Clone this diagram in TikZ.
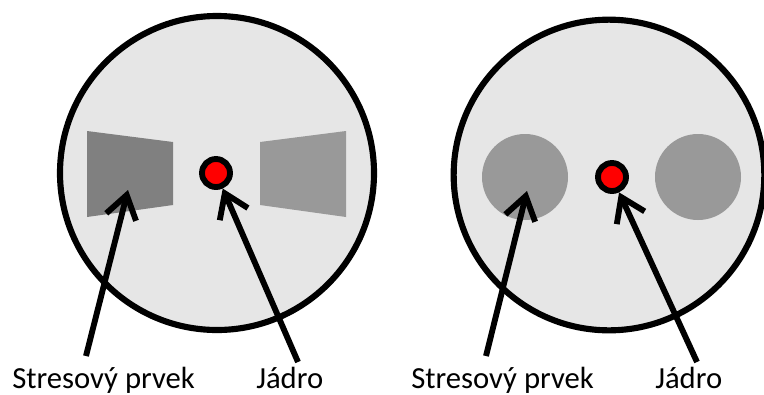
\documentclass[tikz,border=0pt]{standalone}
\usepackage{fontspec}
\setmainfont{Carlito}
\usetikzlibrary{arrows.meta}
\definecolor{diskfill}{HTML}{E6E6E6}
\definecolor{darkelem}{HTML}{808080}
\definecolor{lightelem}{HTML}{999999}
\definecolor{corered}{HTML}{FF0000}
\tikzset{
  disk/.style={circle, draw=black, line width=4.6pt, fill=diskfill, inner sep=0pt, minimum size=#1},
  core/.style={circle, draw=black, line width=4.4pt, fill=corered, inner sep=0pt, minimum size=21pt},
  blob/.style={circle, fill=lightelem, draw=none, inner sep=0pt, minimum size=64.5pt},
  pointer/.style={line width=4.4pt, line cap=butt,
    -{Straight Barb[length=17pt, width=23pt, sharp]}},
  caption/.style={font=\fontsize{23}{27}\selectfont, anchor=base west, inner sep=0pt}
}
\begin{document}
\begin{tikzpicture}[x=0.75pt, y=-0.75pt]
  \useasboundingbox (0,0) rectangle (764,394);

  % left cross-section: wedge-shaped stress elements
  \node[disk=235.5pt] (diskA) at (217,173) {};
  \fill[darkelem] (87,131) -- (173,142) -- (173,205) -- (87,217) -- cycle;
  \fill[lightelem] (260,142) -- (346,131) -- (346,217) -- (260,205) -- cycle;
  \node[core] (coreA) at (216,173) {};
  \coordinate (elemA) at (128,190);

  % right cross-section: round stress elements
  \node[disk=233pt] (diskB) at (609,175) {};
  \node[blob] (blobB1) at (525,177) {};
  \node[blob] (blobB2) at (698,177) {};
  \node[core] (coreB) at (612,177) {};
  \coordinate (elemB) at (527,191);

  % captions
  \node[caption] (stressA) at (12,388) {Stresový prvek};
  \node[caption] (jadroA) at (256,388) {Jádro};
  \node[caption] (stressB) at (411,388) {Stresový prvek};
  \node[caption] (jadroB) at (655,388) {Jádro};

  % tails of the pointers, just above the captions
  \coordinate (tailSA) at (86,356);
  \coordinate (tailJA) at (298,362);
  \coordinate (tailSB) at (486,356);
  \coordinate (tailJB) at (697,362);

  \draw[pointer] (tailSA) -- (elemA);
  \draw[pointer] (tailJA) -- (coreA);
  \draw[pointer] (tailSB) -- (elemB);
  \draw[pointer] (tailJB) -- (coreB);
\end{tikzpicture}
\end{document}
